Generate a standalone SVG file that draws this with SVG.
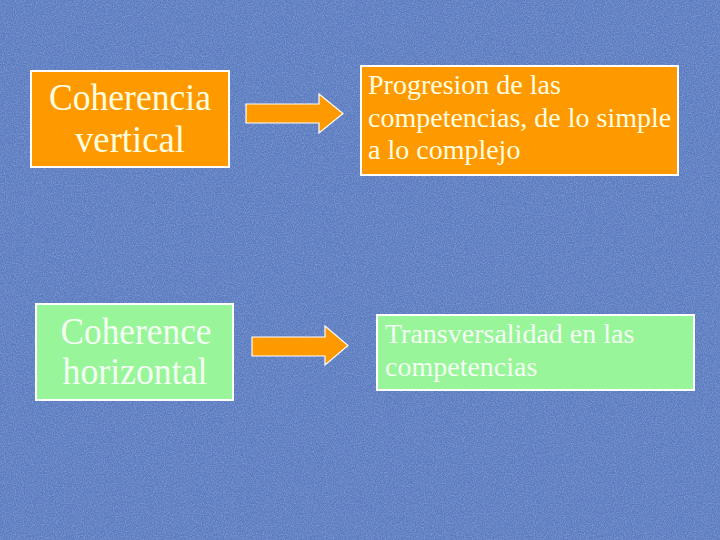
<svg xmlns="http://www.w3.org/2000/svg" width="720" height="540" viewBox="0 0 720 540">
<defs>
<style>
.orange{fill:#ff9900;stroke:#ffffff;stroke-width:2}
.green{fill:#99f599;stroke:#ffffff;stroke-width:2}
.big{font-family:"Liberation Serif","Times New Roman",serif;font-size:38px;text-anchor:middle}
.small{font-family:"Liberation Serif","Times New Roman",serif;font-size:28px}
.onor{fill:#ffffe0}
.ongr{fill:#f4fff4}
.arrow{fill:#ff9900;stroke:#ffffff;stroke-width:1.2}
</style>
<filter id="tex" x="0" y="0" width="100%" height="100%">
<feTurbulence type="fractalNoise" baseFrequency="0.9" numOctaves="2" seed="3" result="n"/>
<feColorMatrix in="n" type="matrix" values="0 0 0 0 0.45  0 0 0 0 0.6  0 0 0 0 0.9  0 0 0 1.2 -0.45" result="c"/>
<feComposite in="c" in2="SourceGraphic" operator="over"/>
</filter>
</defs>
<rect x="0" y="0" width="720" height="540" fill="#5a7bc0"/>
<rect x="0" y="0" width="720" height="540" fill="#5a7bc0" filter="url(#tex)" opacity="0.6"/>
<g id="n1">
<rect class="orange" x="31" y="71" width="198" height="96"/>
<text class="big onor" x="130" y="110" textLength="162" lengthAdjust="spacingAndGlyphs">Coherencia</text>
<text class="big onor" x="130" y="152" textLength="110" lengthAdjust="spacingAndGlyphs">vertical</text>
</g>
<g id="n2">
<rect class="orange" x="361" y="66" width="317" height="109"/>
<text class="small onor" x="368" y="94">Progresion de las</text>
<text class="small onor" x="368" y="127">competencias, de lo simple</text>
<text class="small onor" x="368" y="159">a lo complejo</text>
</g>
<g id="n3">
<rect class="green" x="36" y="304" width="197" height="96"/>
<text class="big ongr" x="136" y="344" textLength="151" lengthAdjust="spacingAndGlyphs">Coherence</text>
<text class="big ongr" x="135" y="384" textLength="145" lengthAdjust="spacingAndGlyphs">horizontal</text>
</g>
<g id="n4">
<rect class="green" x="377" y="315" width="317" height="75"/>
<text class="small ongr" x="385" y="343">Transversalidad en las</text>
<text class="small ongr" x="385" y="376">competencias</text>
</g>
<g id="connectors">
<polygon class="arrow" points="246,104 319,104 319,94 343,113.5 319,133 319,123 246,123"/>
<polygon class="arrow" points="252,337 325,337 325,326 348,345.5 325,365 325,356 252,356"/>
</g>
</svg>
